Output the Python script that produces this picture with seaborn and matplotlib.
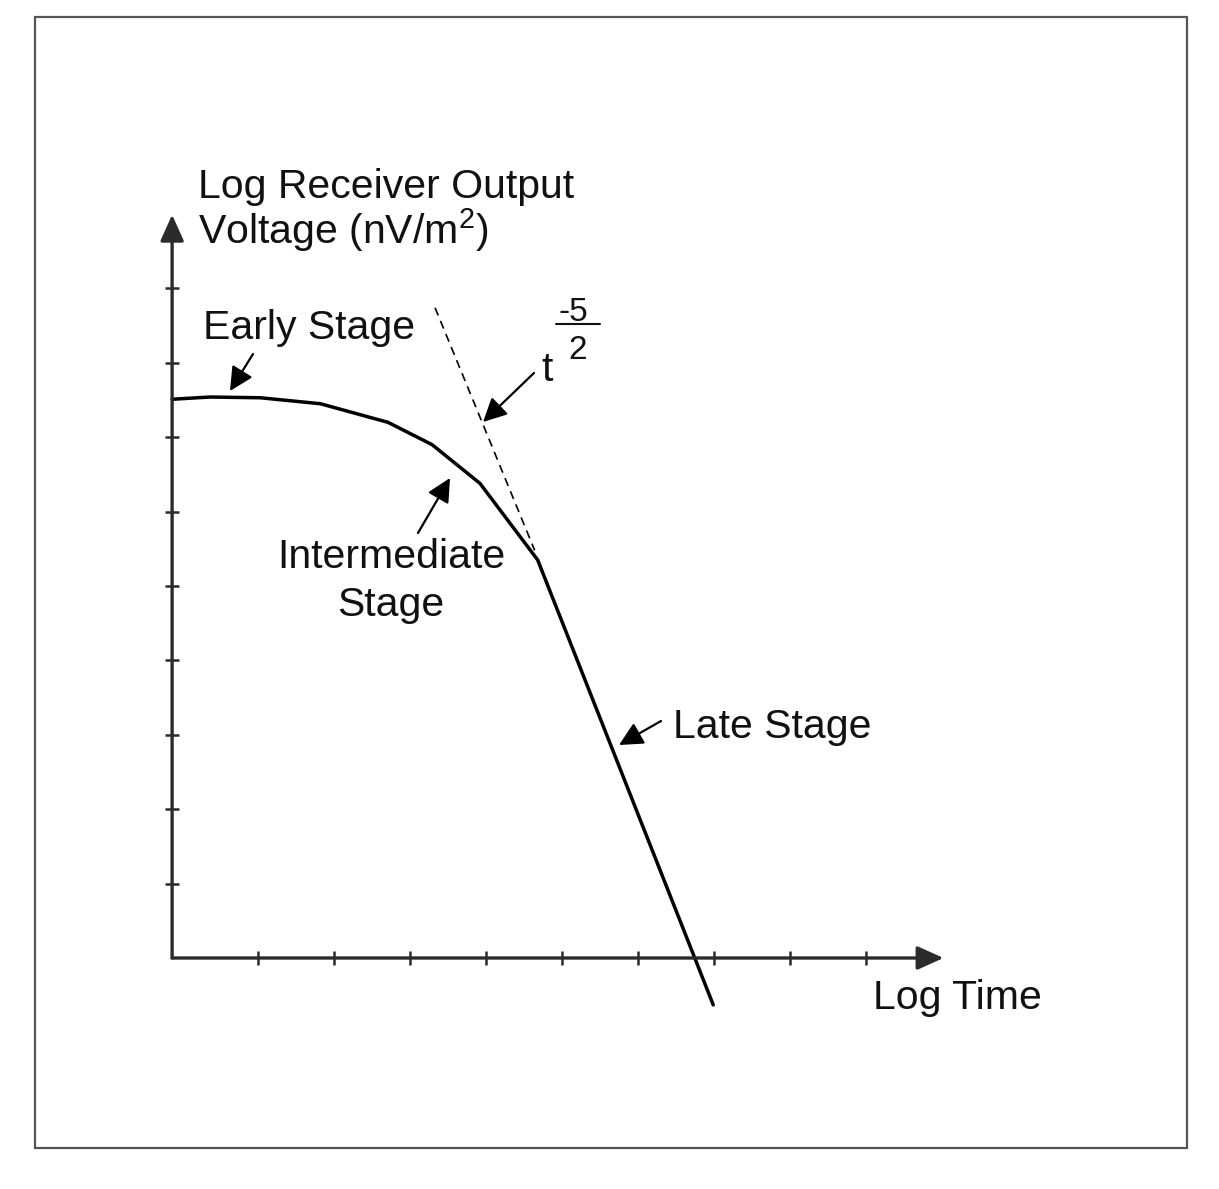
import matplotlib
matplotlib.use("Agg")
import matplotlib.pyplot as plt
from matplotlib.patches import Rectangle
import seaborn as sns
import pandas as pd

# ---- data (arbitrary log units) ----
log_time = [-0.13, 0.37, 1.03, 1.82, 2.71, 3.29, 3.92, 4.68, 6.99]
log_voltage = [7.51, 7.54, 7.53, 7.45, 7.20, 6.90, 6.38, 5.35, -0.63]
asym_time = [3.33, 4.64]
asym_voltage = [8.74, 5.48]
x_ticks = [1, 2, 3, 4, 5, 6, 7, 8, 9]
y_ticks = [1, 2, 3, 4, 5, 6, 7, 8, 9]
x_origin = -0.13
x_end = 10.02
y_end = 9.99

sns.set_theme(style="white")
plt.rcParams["font.family"] = ["Liberation Sans", "DejaVu Sans"]
plt.rcParams["mathtext.fontset"] = "custom"
plt.rcParams["mathtext.rm"] = "Liberation Sans"
plt.rcParams["mathtext.it"] = "Liberation Sans"
plt.rcParams["mathtext.default"] = "regular"

W, H = 1219, 1189
fig = plt.figure(figsize=(W / 100, H / 100), dpi=100)
ax = fig.add_axes([0, 0, 1, 1])

# pixel <-> data mapping (x: 76 px per unit, y: 74.4 px per unit)
def PX(px):
    return (px - 182) / 76.0

def PY(py):
    return (958 - py) / 74.4

ax.set_xlim(PX(0), PX(W))
ax.set_ylim(PY(H), PY(0))
ax.axis("off")

axis_col = "#2b2b2b"
# axes with arrowheads
ax.annotate("", xy=(x_end, 0), xytext=(x_origin, 0),
            arrowprops=dict(arrowstyle="-|>,head_length=0.8,head_width=0.36",
                            mutation_scale=20, lw=2.4, color=axis_col,
                            shrinkA=0, shrinkB=0))
ax.annotate("", xy=(x_origin, y_end), xytext=(x_origin, 0),
            arrowprops=dict(arrowstyle="-|>,head_length=0.8,head_width=0.36",
                            mutation_scale=20, lw=2.4, color=axis_col,
                            shrinkA=0, shrinkB=0))
# ticks
ax.vlines(x_ticks, -0.1, 0.1, color=axis_col, lw=1.8)
ax.hlines(y_ticks, x_origin - 0.09, x_origin + 0.09, color=axis_col, lw=1.8)

# curves
df = pd.DataFrame({"t": log_time, "v": log_voltage})
sns.lineplot(data=df, x="t", y="v", ax=ax, color="black", lw=2.5, sort=False)
dfa = pd.DataFrame({"t": asym_time, "v": asym_voltage})
sns.lineplot(data=dfa, x="t", y="v", ax=ax, color="black", lw=1.2,
             linestyle=(0, (5, 3.5)), sort=False)

fs = 29.5
txt = "#111111"
ax.text(PX(198), PY(198), "Log Receiver Output", fontsize=fs, color=txt,
        ha="left", va="baseline")
ax.text(PX(198), PY(244), "Voltage (nV/m$^{2}$)", fontsize=fs, color=txt,
        ha="left", va="baseline")

ax.text(PX(203), PY(328), "Early Stage", fontsize=fs, color=txt,
        ha="left", va="center")
ax.text(PX(391), PY(557), "Intermediate", fontsize=fs, color=txt,
        ha="center", va="center")
ax.text(PX(391), PY(605), "Stage", fontsize=fs, color=txt,
        ha="center", va="center")
ax.text(PX(673), PY(727), "Late Stage", fontsize=fs, color=txt,
        ha="left", va="center")
ax.text(PX(873), PY(998), "Log Time", fontsize=fs, color=txt,
        ha="left", va="center")

# t^(-5/2)
ax.text(PX(547), PY(381), "t", fontsize=fs, color=txt, ha="center", va="baseline")
ax.text(PX(573), PY(321), "-5", fontsize=24, color=txt, ha="center", va="baseline")
ax.plot([PX(556), PX(600)], [PY(324), PY(324)], color=txt, lw=1.5)
ax.text(PX(578), PY(359), "2", fontsize=24, color=txt, ha="center", va="baseline")

# pointer arrows
arr = dict(arrowstyle="-|>,head_length=0.72,head_width=0.36", mutation_scale=20,
           lw=1.6, color="black", shrinkA=0, shrinkB=0)
ax.annotate("", xy=(PX(230), PY(391)), xytext=(PX(253), PY(354)), arrowprops=arr)
ax.annotate("", xy=(PX(450), PY(478)), xytext=(PX(418), PY(533)), arrowprops=arr)
ax.annotate("", xy=(PX(483), PY(422)), xytext=(PX(534), PY(373)), arrowprops=arr)
ax.annotate("", xy=(PX(619), PY(745)), xytext=(PX(661), PY(721)), arrowprops=arr)

# outer frame
fig.patches.append(Rectangle((35 / W, 1 - 1148 / H), (1187 - 35) / W, (1148 - 17) / H,
                             transform=fig.transFigure, fill=False, lw=1.6,
                             edgecolor="#555555"))

fig.savefig("out.png", dpi=100, facecolor="white")
